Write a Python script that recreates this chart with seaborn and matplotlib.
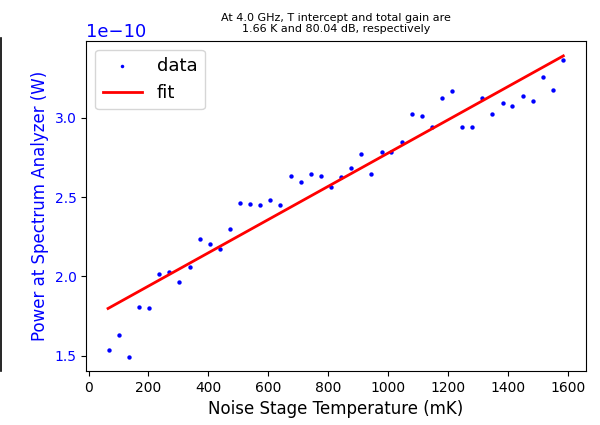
import matplotlib
matplotlib.use("Agg")
import matplotlib.pyplot as plt
from matplotlib.lines import Line2D
import numpy as np
import seaborn as sns

# noise stage temperature (mK)
temps = [68, 101, 135, 169, 203, 236, 270, 303, 337, 371, 404, 439, 472,
         506, 539, 573, 607, 640, 675, 708, 742, 776, 810, 843, 876, 911,
         944, 978, 1011, 1045, 1079, 1112, 1146, 1180, 1214, 1247, 1281,
         1315, 1348, 1382, 1415, 1450, 1483, 1516, 1550, 1584]

# measured power (units of 1e-10 W)
power = [1.536, 1.630, 1.494, 1.807, 1.802, 2.013, 2.029, 1.962, 2.057,
         2.235, 2.202, 2.172, 2.298, 2.460, 2.457, 2.451, 2.480, 2.449,
         2.632, 2.596, 2.644, 2.632, 2.562, 2.627, 2.684, 2.770, 2.644,
         2.783, 2.781, 2.848, 3.022, 3.009, 2.940, 3.125, 3.169, 2.942,
         2.942, 3.121, 3.026, 3.091, 3.072, 3.135, 3.104, 3.255, 3.175,
         3.366]

# fit line end points
fit_t = [65, 1585]
fit_p = [1.798, 3.389]

title = "At 4.0 GHz, T intercept and total gain are\n1.66 K and 80.04 dB, respectively"

fig = plt.figure(figsize=(6, 4.25), dpi=100)
ax = fig.add_axes([0.1438, 0.127, 0.8325, 0.777])

sns.scatterplot(x=temps, y=np.array(power) * 1e-10, ax=ax, color="blue",
                s=10, linewidth=0, label="data")
sns.lineplot(x=fit_t, y=np.array(fit_p) * 1e-10, ax=ax, color="red",
             linewidth=2, label="fit")

ax.set_xlim(-7.7, 1660)
ax.set_ylim(1.404e-10, 3.484e-10)
ax.set_xticks([0, 200, 400, 600, 800, 1000, 1200, 1400, 1600])
ax.set_yticks([1.5e-10, 2.0e-10, 2.5e-10, 3.0e-10])

ax.set_xlabel("Noise Stage Temperature (mK)", fontsize=12)
ax.set_ylabel("Power at Spectrum Analyzer (W)", fontsize=12, color="blue")
ax.tick_params(axis="y", labelcolor="blue", labelsize=10)
ax.tick_params(axis="x", labelsize=10)
ax.yaxis.get_offset_text().set_color("blue")
ax.yaxis.get_offset_text().set_fontsize(13)
ax.set_title(title, fontsize=8)

ax.legend(loc="upper left", fontsize=13, handlelength=2.2, markerscale=0.8)

# edge of a neighbouring panel
fig.add_artist(Line2D([0.002, 0.002], [0.128, 0.91], color="black",
                      linewidth=1.2, transform=fig.transFigure))

fig.savefig("out.png", dpi=100)
